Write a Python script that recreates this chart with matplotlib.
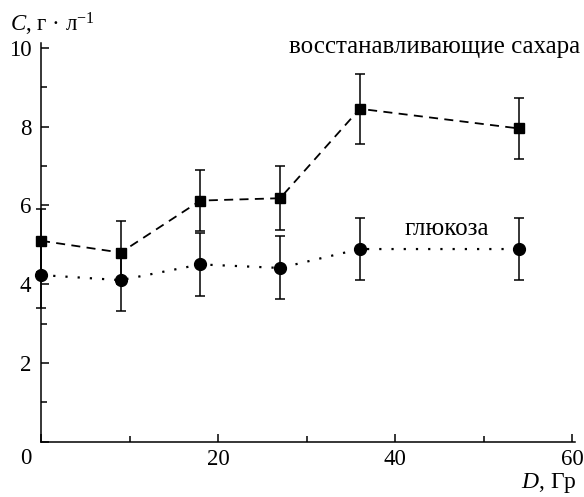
import numpy as np
import matplotlib
matplotlib.use('Agg')
import matplotlib.pyplot as plt
from matplotlib.ticker import MultipleLocator

plt.rcParams['font.family'] = ['Liberation Serif', 'DejaVu Serif']
plt.rcParams['mathtext.fontset'] = 'custom'
plt.rcParams['mathtext.rm'] = 'Liberation Serif'
plt.rcParams['mathtext.it'] = 'Liberation Serif:italic'

# dose, Gy
dose = [0, 9, 18, 27, 36, 54]
# reducing sugars, g/l
sugars = [5.10, 4.80, 6.12, 6.18, 8.45, 7.95]
sugars_err = [0.8, 0.8, 0.78, 0.81, 0.89, 0.78]
# glucose, g/l
glucose = [4.23, 4.10, 4.50, 4.41, 4.89, 4.89]
glucose_err = [0.83, 0.78, 0.79, 0.8, 0.78, 0.78]

fig = plt.figure(figsize=(5.84, 4.97), dpi=100)
ax = fig.add_axes([41 / 584, 55.3 / 497, 534 / 584, 398.7 / 497])

ax.errorbar(dose, sugars, yerr=sugars_err, color='black', lw=1.3,
            ls=(0, (5, 3.5)), marker='s', ms=7, capsize=3.3, elinewidth=1.1,
            capthick=1.1, clip_on=False, zorder=3)
ax.errorbar(dose, glucose, yerr=glucose_err, color='black', lw=1.6,
            ls=(0, (1, 4.5)), marker='o', ms=8.5, capsize=3.3, elinewidth=1.1,
            capthick=1.1, clip_on=False, zorder=3)

ax.set_xlim(0, 60.3)
ax.set_ylim(0, 10.12)
for s in ['top', 'right']:
    ax.spines[s].set_visible(False)
for s in ['left', 'bottom']:
    ax.spines[s].set_linewidth(1.1)

ax.xaxis.set_major_locator(MultipleLocator(20))
ax.xaxis.set_minor_locator(MultipleLocator(10))
ax.yaxis.set_major_locator(MultipleLocator(2))
ax.yaxis.set_minor_locator(MultipleLocator(1))
ax.tick_params(which='both', direction='in', width=1.1, labelsize=16.5)
ax.tick_params(which='major', length=6)
ax.tick_params(which='minor', length=4)
ax.tick_params(axis='y', pad=7)
ax.tick_params(axis='x', pad=5)
ax.set_xticks([0, 20, 40, 60])
ax.set_xticklabels(['', '20', '40', '60'])
ax.set_yticks([0, 2, 4, 6, 8, 10])
ax.set_yticklabels(['', '2', '4', '6', '8', '10'])

fig.text(26 / 584, 1 - 459 / 497, '0', fontsize=16.5, ha='center', va='center')
fig.text(10 / 584, 1 - 32 / 497, r'$C$, г · л$^{-1}$', fontsize=16.5,
         ha='left', va='baseline')
fig.text(577 / 584, 1 - 488 / 497, r'$D$, Гр', fontsize=17,
         ha='right', va='baseline')
fig.text(580 / 584, 1 - 53 / 497, 'восстанавливающие сахара', fontsize=18,
         ha='right', va='baseline')
fig.text(447 / 584, 1 - 235 / 497, 'глюкоза', fontsize=18,
         ha='center', va='baseline')

fig.savefig('out.png', dpi=100)
